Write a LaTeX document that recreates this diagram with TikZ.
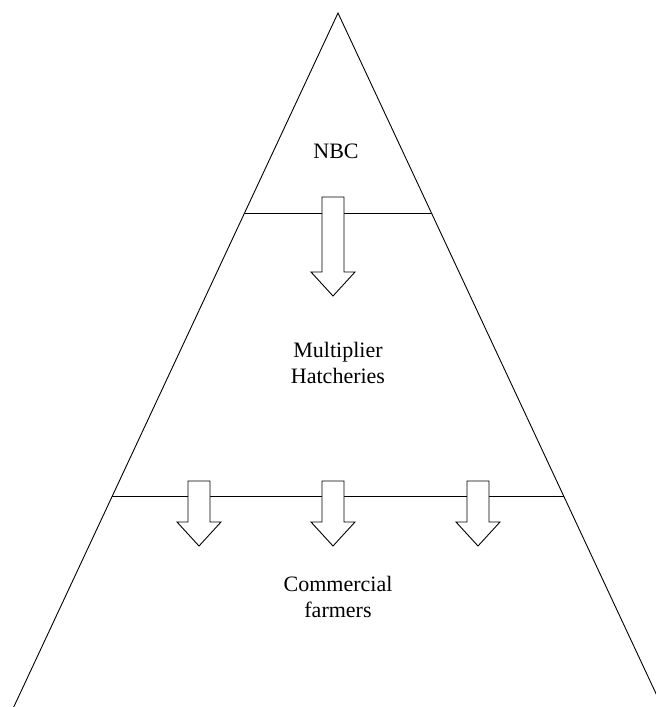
\documentclass[tikz,border=0pt]{standalone}
\usepackage{fontspec}
\setmainfont{Liberation Serif}
\begin{document}
\begin{tikzpicture}[x=1pt,y=-1pt,
  edge/.style={line width=0.9pt,black},
  blockarrow/.style={draw=black,line width=0.9pt,fill=white,line join=miter},
  label/.style={font=\fontsize{22}{26}\selectfont,align=center,anchor=base,inner sep=0pt}]
\useasboundingbox (0,0) rectangle (656,707);
\clip (0,0) rectangle (656,707);
% pyramid
\coordinate (apex) at (338,13);
\coordinate (bl) at (10,715);
\coordinate (br) at (666,715);
\draw[edge] (bl) -- (apex) -- (br);
\coordinate (l1a) at (244.6,213);
\coordinate (l1b) at (431.4,213);
\coordinate (l2a) at (112,496);
\coordinate (l2b) at (564,496);
\draw[edge] (l1a) -- (l1b);
\draw[edge] (l2a) -- (l2b);
% arrows
\newcommand\myblockarrow[4]{%
  \draw[blockarrow] (#1-11,#2) -- (#1+11,#2) -- (#1+11,#3) -- (#1+22,#3)
    -- (#1,#4) -- (#1-22,#3) -- (#1-11,#3) -- cycle;}
\myblockarrow{333}{197}{272}{296}
\myblockarrow{199}{481}{522}{546}
\myblockarrow{333}{481}{522}{546}
\myblockarrow{478}{481}{522}{546}
% labels
\node[label] (nbc) at (336,158) {NBC};
\node[label] (mult) at (338,383) {Multiplier\\Hatcheries};
\node[label] (comm) at (338,617) {Commercial\\farmers};
\end{tikzpicture}
\end{document}
